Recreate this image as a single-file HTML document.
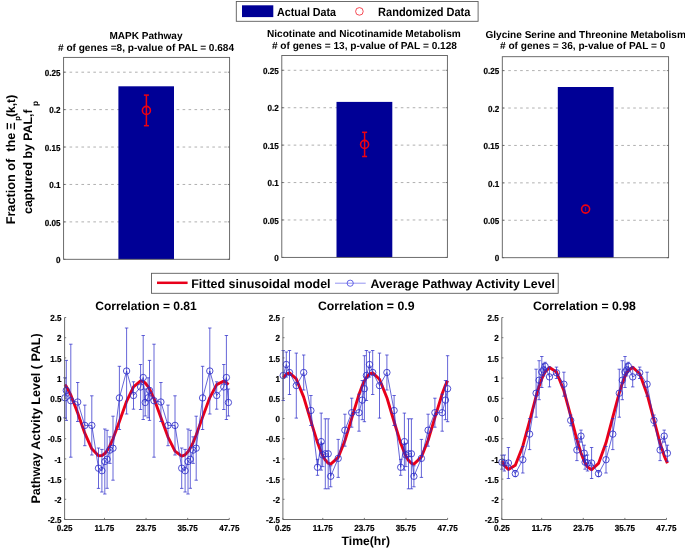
<!DOCTYPE html>
<html><head><meta charset="utf-8"><style>
html,body{margin:0;padding:0;background:#fff;width:685px;height:552px;overflow:hidden;}
svg{display:block;will-change:transform;}
text{font-family:"Liberation Sans",sans-serif;}
</style></head><body>
<svg width="685" height="552" viewBox="0 0 685 552" text-rendering="geometricPrecision"><rect x="236.3" y="1.5" width="241.8" height="19.8" fill="#fff" stroke="#5c5c5c" stroke-width="0.9"/>
<rect x="242" y="5.3" width="31.3" height="11.8" fill="#000096"/>
<text transform="translate(277.10,15.6) scale(1,1.1)" font-size="10.730" font-family="Liberation Sans, sans-serif" font-weight="bold" xml:space="preserve">Actual Data</text>
<circle cx="359.4" cy="11.4" r="3.8" fill="none" stroke="#F00010" stroke-width="0.7"/>
<text transform="translate(378.10,15.6) scale(1,1.1)" font-size="11.012" font-family="Liberation Sans, sans-serif" font-weight="bold" xml:space="preserve">Randomized Data</text>
<line x1="63.6" y1="221.88" x2="229.6" y2="221.88" stroke="#9c9c9c" stroke-width="0.8" stroke-dasharray="2.6,3.35"/>
<line x1="63.6" y1="184.46" x2="229.6" y2="184.46" stroke="#9c9c9c" stroke-width="0.8" stroke-dasharray="2.6,3.35"/>
<line x1="63.6" y1="147.04" x2="229.6" y2="147.04" stroke="#9c9c9c" stroke-width="0.8" stroke-dasharray="2.6,3.35"/>
<line x1="63.6" y1="109.62" x2="229.6" y2="109.62" stroke="#9c9c9c" stroke-width="0.8" stroke-dasharray="2.6,3.35"/>
<line x1="63.6" y1="72.20" x2="229.6" y2="72.20" stroke="#9c9c9c" stroke-width="0.8" stroke-dasharray="2.6,3.35"/>
<rect x="118.4" y="86.3" width="55.60" height="173.00" fill="#000096"/>
<line x1="63.6" y1="259.30" x2="65.4" y2="259.30" stroke="#5c5c5c" stroke-width="0.8"/>
<line x1="229.6" y1="259.30" x2="227.79999999999998" y2="259.30" stroke="#5c5c5c" stroke-width="0.8"/>
<text transform="translate(60.60,263.00) scale(1,1.08)" font-size="8.1" stroke="#000" stroke-width="0.2" text-anchor="end" font-family="Liberation Sans, sans-serif" font-weight="bold">0</text>
<line x1="63.6" y1="221.88" x2="65.4" y2="221.88" stroke="#5c5c5c" stroke-width="0.8"/>
<line x1="229.6" y1="221.88" x2="227.79999999999998" y2="221.88" stroke="#5c5c5c" stroke-width="0.8"/>
<text transform="translate(60.60,225.58) scale(1,1.08)" font-size="8.1" stroke="#000" stroke-width="0.2" text-anchor="end" font-family="Liberation Sans, sans-serif" font-weight="bold">0.05</text>
<line x1="63.6" y1="184.46" x2="65.4" y2="184.46" stroke="#5c5c5c" stroke-width="0.8"/>
<line x1="229.6" y1="184.46" x2="227.79999999999998" y2="184.46" stroke="#5c5c5c" stroke-width="0.8"/>
<text transform="translate(60.60,188.16) scale(1,1.08)" font-size="8.1" stroke="#000" stroke-width="0.2" text-anchor="end" font-family="Liberation Sans, sans-serif" font-weight="bold">0.1</text>
<line x1="63.6" y1="147.04" x2="65.4" y2="147.04" stroke="#5c5c5c" stroke-width="0.8"/>
<line x1="229.6" y1="147.04" x2="227.79999999999998" y2="147.04" stroke="#5c5c5c" stroke-width="0.8"/>
<text transform="translate(60.60,150.74) scale(1,1.08)" font-size="8.1" stroke="#000" stroke-width="0.2" text-anchor="end" font-family="Liberation Sans, sans-serif" font-weight="bold">0.15</text>
<line x1="63.6" y1="109.62" x2="65.4" y2="109.62" stroke="#5c5c5c" stroke-width="0.8"/>
<line x1="229.6" y1="109.62" x2="227.79999999999998" y2="109.62" stroke="#5c5c5c" stroke-width="0.8"/>
<text transform="translate(60.60,113.32) scale(1,1.08)" font-size="8.1" stroke="#000" stroke-width="0.2" text-anchor="end" font-family="Liberation Sans, sans-serif" font-weight="bold">0.2</text>
<line x1="63.6" y1="72.20" x2="65.4" y2="72.20" stroke="#5c5c5c" stroke-width="0.8"/>
<line x1="229.6" y1="72.20" x2="227.79999999999998" y2="72.20" stroke="#5c5c5c" stroke-width="0.8"/>
<text transform="translate(60.60,75.90) scale(1,1.08)" font-size="8.1" stroke="#000" stroke-width="0.2" text-anchor="end" font-family="Liberation Sans, sans-serif" font-weight="bold">0.25</text>
<rect x="63.6" y="57.4" width="166.00" height="201.90" fill="none" stroke="#5c5c5c" stroke-width="0.9"/>
<g stroke="#F00010" stroke-width="1.5" fill="none"><line x1="146.4" y1="95.10" x2="146.4" y2="125.70"/><line x1="143.9" y1="95.10" x2="148.9" y2="95.10"/><line x1="143.9" y1="125.70" x2="148.9" y2="125.70"/></g>
<circle cx="146.4" cy="110.4" r="4.0" stroke="#F00010" stroke-width="1.6" fill="none"/>
<line x1="281.8" y1="219.98" x2="447.4" y2="219.98" stroke="#9c9c9c" stroke-width="0.8" stroke-dasharray="2.6,3.35"/>
<line x1="281.8" y1="182.56" x2="447.4" y2="182.56" stroke="#9c9c9c" stroke-width="0.8" stroke-dasharray="2.6,3.35"/>
<line x1="281.8" y1="145.14" x2="447.4" y2="145.14" stroke="#9c9c9c" stroke-width="0.8" stroke-dasharray="2.6,3.35"/>
<line x1="281.8" y1="107.72" x2="447.4" y2="107.72" stroke="#9c9c9c" stroke-width="0.8" stroke-dasharray="2.6,3.35"/>
<line x1="281.8" y1="70.30" x2="447.4" y2="70.30" stroke="#9c9c9c" stroke-width="0.8" stroke-dasharray="2.6,3.35"/>
<rect x="336.5" y="101.9" width="55.80" height="155.50" fill="#000096"/>
<line x1="281.8" y1="257.40" x2="283.6" y2="257.40" stroke="#5c5c5c" stroke-width="0.8"/>
<line x1="447.4" y1="257.40" x2="445.59999999999997" y2="257.40" stroke="#5c5c5c" stroke-width="0.8"/>
<text transform="translate(278.80,261.10) scale(1,1.08)" font-size="8.1" stroke="#000" stroke-width="0.2" text-anchor="end" font-family="Liberation Sans, sans-serif" font-weight="bold">0</text>
<line x1="281.8" y1="219.98" x2="283.6" y2="219.98" stroke="#5c5c5c" stroke-width="0.8"/>
<line x1="447.4" y1="219.98" x2="445.59999999999997" y2="219.98" stroke="#5c5c5c" stroke-width="0.8"/>
<text transform="translate(278.80,223.68) scale(1,1.08)" font-size="8.1" stroke="#000" stroke-width="0.2" text-anchor="end" font-family="Liberation Sans, sans-serif" font-weight="bold">0.05</text>
<line x1="281.8" y1="182.56" x2="283.6" y2="182.56" stroke="#5c5c5c" stroke-width="0.8"/>
<line x1="447.4" y1="182.56" x2="445.59999999999997" y2="182.56" stroke="#5c5c5c" stroke-width="0.8"/>
<text transform="translate(278.80,186.26) scale(1,1.08)" font-size="8.1" stroke="#000" stroke-width="0.2" text-anchor="end" font-family="Liberation Sans, sans-serif" font-weight="bold">0.1</text>
<line x1="281.8" y1="145.14" x2="283.6" y2="145.14" stroke="#5c5c5c" stroke-width="0.8"/>
<line x1="447.4" y1="145.14" x2="445.59999999999997" y2="145.14" stroke="#5c5c5c" stroke-width="0.8"/>
<text transform="translate(278.80,148.84) scale(1,1.08)" font-size="8.1" stroke="#000" stroke-width="0.2" text-anchor="end" font-family="Liberation Sans, sans-serif" font-weight="bold">0.15</text>
<line x1="281.8" y1="107.72" x2="283.6" y2="107.72" stroke="#5c5c5c" stroke-width="0.8"/>
<line x1="447.4" y1="107.72" x2="445.59999999999997" y2="107.72" stroke="#5c5c5c" stroke-width="0.8"/>
<text transform="translate(278.80,111.42) scale(1,1.08)" font-size="8.1" stroke="#000" stroke-width="0.2" text-anchor="end" font-family="Liberation Sans, sans-serif" font-weight="bold">0.2</text>
<line x1="281.8" y1="70.30" x2="283.6" y2="70.30" stroke="#5c5c5c" stroke-width="0.8"/>
<line x1="447.4" y1="70.30" x2="445.59999999999997" y2="70.30" stroke="#5c5c5c" stroke-width="0.8"/>
<text transform="translate(278.80,74.00) scale(1,1.08)" font-size="8.1" stroke="#000" stroke-width="0.2" text-anchor="end" font-family="Liberation Sans, sans-serif" font-weight="bold">0.25</text>
<rect x="281.8" y="55.5" width="165.60" height="201.90" fill="none" stroke="#5c5c5c" stroke-width="0.9"/>
<g stroke="#F00010" stroke-width="1.5" fill="none"><line x1="364.6" y1="132.30" x2="364.6" y2="156.50"/><line x1="362.1" y1="132.30" x2="367.1" y2="132.30"/><line x1="362.1" y1="156.50" x2="367.1" y2="156.50"/></g>
<circle cx="364.6" cy="144.4" r="4.0" stroke="#F00010" stroke-width="1.6" fill="none"/>
<line x1="502.3" y1="220.28" x2="668.6" y2="220.28" stroke="#9c9c9c" stroke-width="0.8" stroke-dasharray="2.6,3.35"/>
<line x1="502.3" y1="182.86" x2="668.6" y2="182.86" stroke="#9c9c9c" stroke-width="0.8" stroke-dasharray="2.6,3.35"/>
<line x1="502.3" y1="145.44" x2="668.6" y2="145.44" stroke="#9c9c9c" stroke-width="0.8" stroke-dasharray="2.6,3.35"/>
<line x1="502.3" y1="108.02" x2="668.6" y2="108.02" stroke="#9c9c9c" stroke-width="0.8" stroke-dasharray="2.6,3.35"/>
<line x1="502.3" y1="70.60" x2="668.6" y2="70.60" stroke="#9c9c9c" stroke-width="0.8" stroke-dasharray="2.6,3.35"/>
<rect x="557.8" y="87.0" width="55.80" height="170.70" fill="#000096"/>
<line x1="502.3" y1="257.70" x2="504.1" y2="257.70" stroke="#5c5c5c" stroke-width="0.8"/>
<line x1="668.6" y1="257.70" x2="666.8000000000001" y2="257.70" stroke="#5c5c5c" stroke-width="0.8"/>
<text transform="translate(499.30,261.40) scale(1,1.08)" font-size="8.1" stroke="#000" stroke-width="0.2" text-anchor="end" font-family="Liberation Sans, sans-serif" font-weight="bold">0</text>
<line x1="502.3" y1="220.28" x2="504.1" y2="220.28" stroke="#5c5c5c" stroke-width="0.8"/>
<line x1="668.6" y1="220.28" x2="666.8000000000001" y2="220.28" stroke="#5c5c5c" stroke-width="0.8"/>
<text transform="translate(499.30,223.98) scale(1,1.08)" font-size="8.1" stroke="#000" stroke-width="0.2" text-anchor="end" font-family="Liberation Sans, sans-serif" font-weight="bold">0.05</text>
<line x1="502.3" y1="182.86" x2="504.1" y2="182.86" stroke="#5c5c5c" stroke-width="0.8"/>
<line x1="668.6" y1="182.86" x2="666.8000000000001" y2="182.86" stroke="#5c5c5c" stroke-width="0.8"/>
<text transform="translate(499.30,186.56) scale(1,1.08)" font-size="8.1" stroke="#000" stroke-width="0.2" text-anchor="end" font-family="Liberation Sans, sans-serif" font-weight="bold">0.1</text>
<line x1="502.3" y1="145.44" x2="504.1" y2="145.44" stroke="#5c5c5c" stroke-width="0.8"/>
<line x1="668.6" y1="145.44" x2="666.8000000000001" y2="145.44" stroke="#5c5c5c" stroke-width="0.8"/>
<text transform="translate(499.30,149.14) scale(1,1.08)" font-size="8.1" stroke="#000" stroke-width="0.2" text-anchor="end" font-family="Liberation Sans, sans-serif" font-weight="bold">0.15</text>
<line x1="502.3" y1="108.02" x2="504.1" y2="108.02" stroke="#5c5c5c" stroke-width="0.8"/>
<line x1="668.6" y1="108.02" x2="666.8000000000001" y2="108.02" stroke="#5c5c5c" stroke-width="0.8"/>
<text transform="translate(499.30,111.72) scale(1,1.08)" font-size="8.1" stroke="#000" stroke-width="0.2" text-anchor="end" font-family="Liberation Sans, sans-serif" font-weight="bold">0.2</text>
<line x1="502.3" y1="70.60" x2="504.1" y2="70.60" stroke="#5c5c5c" stroke-width="0.8"/>
<line x1="668.6" y1="70.60" x2="666.8000000000001" y2="70.60" stroke="#5c5c5c" stroke-width="0.8"/>
<text transform="translate(499.30,74.30) scale(1,1.08)" font-size="8.1" stroke="#000" stroke-width="0.2" text-anchor="end" font-family="Liberation Sans, sans-serif" font-weight="bold">0.25</text>
<rect x="502.3" y="56.7" width="166.30" height="201.00" fill="none" stroke="#5c5c5c" stroke-width="0.9"/>
<line x1="585.6" y1="207.10" x2="585.6" y2="211.10" stroke="#c00030" stroke-width="0.8"/>
<circle cx="585.6" cy="209.1" r="4.0" stroke="#F00010" stroke-width="1.6" fill="none"/>
<text x="109.50" y="39.0" font-size="10.042" font-family="Liberation Sans, sans-serif" font-weight="bold" xml:space="preserve">MAPK Pathway</text>
<text x="58.00" y="50.7" font-size="10.086" font-family="Liberation Sans, sans-serif" font-weight="bold" xml:space="preserve"># of genes =8, p-value of PAL = 0.684</text>
<text x="266.99" y="37.0" font-size="10.089" font-family="Liberation Sans, sans-serif" font-weight="bold" xml:space="preserve">Nicotinate and Nicotinamide Metabolism</text>
<text x="271.90" y="48.5" font-size="10.115" font-family="Liberation Sans, sans-serif" font-weight="bold" xml:space="preserve"># of genes = 13, p-value of PAL = 0.128</text>
<text x="485.45" y="37.7" font-size="10.088" font-family="Liberation Sans, sans-serif" font-weight="bold" xml:space="preserve">Glycine Serine and Threonine Metabolism</text>
<text x="500.00" y="49.4" font-size="10.129" font-family="Liberation Sans, sans-serif" font-weight="bold" xml:space="preserve"># of genes = 36, p-value of PAL = 0</text>
<text transform="translate(15.0,224.36) rotate(-90)" font-size="12.692" font-family="Liberation Sans, sans-serif" font-weight="bold" xml:space="preserve">Fraction of  the</text>
<text transform="translate(15.0,130.10) rotate(-90)" font-size="12.100" font-family="Liberation Sans, sans-serif" font-weight="bold" xml:space="preserve">&#926;</text>
<text transform="translate(20.2,120.80) rotate(-90)" font-size="7.800" font-family="Liberation Sans, sans-serif" font-weight="bold" xml:space="preserve">p</text>
<text transform="translate(15.0,117.00) rotate(-90)" font-size="12.100" font-family="Liberation Sans, sans-serif" font-weight="bold" xml:space="preserve">(k,t)</text>
<text transform="translate(31.5,213.90) rotate(-90)" font-size="12.309" font-family="Liberation Sans, sans-serif" font-weight="bold" xml:space="preserve">captured by PAL,</text>
<text transform="translate(31.5,113.40) rotate(-90)" font-size="12.100" font-family="Liberation Sans, sans-serif" font-weight="bold" xml:space="preserve">f</text>
<text transform="translate(37.6,105.90) rotate(-90)" font-size="8.400" font-family="Liberation Sans, sans-serif" font-weight="bold" xml:space="preserve">p</text>
<rect x="151.5" y="273.3" width="406.7" height="20" fill="#fff" stroke="#5c5c5c" stroke-width="0.9"/>
<line x1="157" y1="282.8" x2="187.6" y2="282.8" stroke="#E8001A" stroke-width="2.5"/>
<text x="191.16" y="287.5" font-size="12.491" font-family="Liberation Sans, sans-serif" font-weight="bold" xml:space="preserve">Fitted sinusoidal model</text>
<line x1="335" y1="283.2" x2="365.7" y2="283.2" stroke="#7878ee" stroke-width="0.8"/>
<circle cx="350.2" cy="283.2" r="3.1" fill="none" stroke="#4040e0" stroke-width="0.8"/>
<text x="370.50" y="287.5" font-size="12.357" font-family="Liberation Sans, sans-serif" font-weight="bold" xml:space="preserve">Average Pathway Activity Level</text>
<polyline points="64.90,384.54 66.30,386.47 70.80,395.03 77.70,413.10 84.80,433.19 91.80,448.85 98.50,455.82 101.90,455.67 104.80,453.54 107.10,450.61 109.90,445.70 113.00,438.81 119.40,421.46 126.60,401.32 133.50,386.77 140.60,380.93 143.20,381.54 145.20,383.01 148.10,386.62 149.50,388.94 154.00,398.56 160.90,417.42 168.00,437.08 175.00,451.19 181.70,456.07 185.10,454.79 188.00,451.75 190.30,448.15 193.10,442.53 196.20,435.03 202.60,417.13 209.80,397.59 216.70,384.67 223.80,381.10 226.40,382.56 228.40,384.67" stroke="#E8001A" stroke-width="2.9" fill="none" stroke-linejoin="round"/>
<path d="M64.90 377.80V417.80M63.20 377.80H66.60M63.20 417.80H66.60M66.30 360.40V420.40M64.60 360.40H68.00M64.60 420.40H68.00M70.80 344.20V457.20M69.10 344.20H72.50M69.10 457.20H72.50M77.70 382.50V421.50M76.00 382.50H79.40M76.00 421.50H79.40M84.80 405.10V445.70M83.10 405.10H86.50M83.10 445.70H86.50M91.80 395.80V455.00M90.10 395.80H93.50M90.10 455.00H93.50M98.50 448.00V488.40M96.80 448.00H100.20M96.80 488.40H100.20M101.90 449.40V492.00M100.20 449.40H103.60M100.20 492.00H103.60M104.80 429.00V494.00M103.10 429.00H106.50M103.10 494.00H106.50M107.10 430.30V488.30M105.40 430.30H108.80M105.40 488.30H108.80M109.90 436.80V463.40M108.20 436.80H111.60M108.20 463.40H111.60M113.00 416.20V480.20M111.30 416.20H114.70M111.30 480.20H114.70M119.40 366.30V429.50M117.70 366.30H121.10M117.70 429.50H121.10M126.60 328.00V414.00M124.90 328.00H128.30M124.90 414.00H128.30M133.50 381.80V409.20M131.80 381.80H135.20M131.80 409.20H135.20M140.60 364.50V409.50M138.90 364.50H142.30M138.90 409.50H142.30M143.20 335.50V419.50M141.50 335.50H144.90M141.50 419.50H144.90M145.20 389.00V416.00M143.50 389.00H146.90M143.50 416.00H146.90M148.10 377.80V417.80M146.40 377.80H149.80M146.40 417.80H149.80M149.50 360.40V420.40M147.80 360.40H151.20M147.80 420.40H151.20M154.00 344.20V457.20M152.30 344.20H155.70M152.30 457.20H155.70M160.90 382.50V421.50M159.20 382.50H162.60M159.20 421.50H162.60M168.00 405.10V445.70M166.30 405.10H169.70M166.30 445.70H169.70M175.00 395.80V455.00M173.30 395.80H176.70M173.30 455.00H176.70M181.70 448.00V488.40M180.00 448.00H183.40M180.00 488.40H183.40M185.10 449.40V492.00M183.40 449.40H186.80M183.40 492.00H186.80M188.00 429.00V494.00M186.30 429.00H189.70M186.30 494.00H189.70M190.30 430.30V488.30M188.60 430.30H192.00M188.60 488.30H192.00M193.10 436.80V463.40M191.40 436.80H194.80M191.40 463.40H194.80M196.20 416.20V480.20M194.50 416.20H197.90M194.50 480.20H197.90M202.60 366.30V429.50M200.90 366.30H204.30M200.90 429.50H204.30M209.80 328.00V414.00M208.10 328.00H211.50M208.10 414.00H211.50M216.70 381.80V409.20M215.00 381.80H218.40M215.00 409.20H218.40M223.80 364.50V409.50M222.10 364.50H225.50M222.10 409.50H225.50M226.40 335.50V419.50M224.70 335.50H228.10M224.70 419.50H228.10M228.40 389.00V416.00M226.70 389.00H230.10M226.70 416.00H230.10" stroke="#2a2ac8" stroke-width="0.72" fill="none"/>
<polyline points="64.90,397.80 66.30,390.40 70.80,400.70 77.70,402.00 84.80,425.40 91.80,425.40 98.50,468.20 101.90,470.70 104.80,461.50 107.10,459.30 109.90,450.10 113.00,448.20 119.40,397.90 126.60,371.00 133.50,395.50 140.60,387.00 143.20,377.50 145.20,402.50 148.10,397.80 149.50,390.40 154.00,400.70 160.90,402.00 168.00,425.40 175.00,425.40 181.70,468.20 185.10,470.70 188.00,461.50 190.30,459.30 193.10,450.10 196.20,448.20 202.60,397.90 209.80,371.00 216.70,395.50 223.80,387.00 226.40,377.50 228.40,402.50" stroke="#2a2ac8" stroke-width="0.72" fill="none"/>
<g stroke="#2a2ac8" stroke-width="0.82" fill="none"><circle cx="64.90" cy="397.80" r="3.2"/><circle cx="66.30" cy="390.40" r="3.2"/><circle cx="70.80" cy="400.70" r="3.2"/><circle cx="77.70" cy="402.00" r="3.2"/><circle cx="84.80" cy="425.40" r="3.2"/><circle cx="91.80" cy="425.40" r="3.2"/><circle cx="98.50" cy="468.20" r="3.2"/><circle cx="101.90" cy="470.70" r="3.2"/><circle cx="104.80" cy="461.50" r="3.2"/><circle cx="107.10" cy="459.30" r="3.2"/><circle cx="109.90" cy="450.10" r="3.2"/><circle cx="113.00" cy="448.20" r="3.2"/><circle cx="119.40" cy="397.90" r="3.2"/><circle cx="126.60" cy="371.00" r="3.2"/><circle cx="133.50" cy="395.50" r="3.2"/><circle cx="140.60" cy="387.00" r="3.2"/><circle cx="143.20" cy="377.50" r="3.2"/><circle cx="145.20" cy="402.50" r="3.2"/><circle cx="148.10" cy="397.80" r="3.2"/><circle cx="149.50" cy="390.40" r="3.2"/><circle cx="154.00" cy="400.70" r="3.2"/><circle cx="160.90" cy="402.00" r="3.2"/><circle cx="168.00" cy="425.40" r="3.2"/><circle cx="175.00" cy="425.40" r="3.2"/><circle cx="181.70" cy="468.20" r="3.2"/><circle cx="185.10" cy="470.70" r="3.2"/><circle cx="188.00" cy="461.50" r="3.2"/><circle cx="190.30" cy="459.30" r="3.2"/><circle cx="193.10" cy="450.10" r="3.2"/><circle cx="196.20" cy="448.20" r="3.2"/><circle cx="202.60" cy="397.90" r="3.2"/><circle cx="209.80" cy="371.00" r="3.2"/><circle cx="216.70" cy="395.50" r="3.2"/><circle cx="223.80" cy="387.00" r="3.2"/><circle cx="226.40" cy="377.50" r="3.2"/><circle cx="228.40" cy="402.50" r="3.2"/></g>
<path d="M64.6 317.50V519.50H229.28" stroke="#5c5c5c" stroke-width="0.9" fill="none"/>
<line x1="64.6" y1="317.50" x2="66.19999999999999" y2="317.50" stroke="#5c5c5c" stroke-width="0.8"/>
<text transform="translate(61.60,321.20) scale(1,1.08)" font-size="8.1" stroke="#000" stroke-width="0.2" text-anchor="end" font-family="Liberation Sans, sans-serif" font-weight="bold">2.5</text>
<line x1="64.6" y1="337.70" x2="66.19999999999999" y2="337.70" stroke="#5c5c5c" stroke-width="0.8"/>
<text transform="translate(61.60,341.40) scale(1,1.08)" font-size="8.1" stroke="#000" stroke-width="0.2" text-anchor="end" font-family="Liberation Sans, sans-serif" font-weight="bold">2</text>
<line x1="64.6" y1="357.90" x2="66.19999999999999" y2="357.90" stroke="#5c5c5c" stroke-width="0.8"/>
<text transform="translate(61.60,361.60) scale(1,1.08)" font-size="8.1" stroke="#000" stroke-width="0.2" text-anchor="end" font-family="Liberation Sans, sans-serif" font-weight="bold">1.5</text>
<line x1="64.6" y1="378.10" x2="66.19999999999999" y2="378.10" stroke="#5c5c5c" stroke-width="0.8"/>
<text transform="translate(61.60,381.80) scale(1,1.08)" font-size="8.1" stroke="#000" stroke-width="0.2" text-anchor="end" font-family="Liberation Sans, sans-serif" font-weight="bold">1</text>
<line x1="64.6" y1="398.30" x2="66.19999999999999" y2="398.30" stroke="#5c5c5c" stroke-width="0.8"/>
<text transform="translate(61.60,402.00) scale(1,1.08)" font-size="8.1" stroke="#000" stroke-width="0.2" text-anchor="end" font-family="Liberation Sans, sans-serif" font-weight="bold">0.5</text>
<line x1="64.6" y1="418.50" x2="66.19999999999999" y2="418.50" stroke="#5c5c5c" stroke-width="0.8"/>
<text transform="translate(61.60,422.20) scale(1,1.08)" font-size="8.1" stroke="#000" stroke-width="0.2" text-anchor="end" font-family="Liberation Sans, sans-serif" font-weight="bold">0</text>
<line x1="64.6" y1="438.70" x2="66.19999999999999" y2="438.70" stroke="#5c5c5c" stroke-width="0.8"/>
<text transform="translate(61.60,442.40) scale(1,1.08)" font-size="8.1" stroke="#000" stroke-width="0.2" text-anchor="end" font-family="Liberation Sans, sans-serif" font-weight="bold">-0.5</text>
<line x1="64.6" y1="458.90" x2="66.19999999999999" y2="458.90" stroke="#5c5c5c" stroke-width="0.8"/>
<text transform="translate(61.60,462.60) scale(1,1.08)" font-size="8.1" stroke="#000" stroke-width="0.2" text-anchor="end" font-family="Liberation Sans, sans-serif" font-weight="bold">-1</text>
<line x1="64.6" y1="479.10" x2="66.19999999999999" y2="479.10" stroke="#5c5c5c" stroke-width="0.8"/>
<text transform="translate(61.60,482.80) scale(1,1.08)" font-size="8.1" stroke="#000" stroke-width="0.2" text-anchor="end" font-family="Liberation Sans, sans-serif" font-weight="bold">-1.5</text>
<line x1="64.6" y1="499.30" x2="66.19999999999999" y2="499.30" stroke="#5c5c5c" stroke-width="0.8"/>
<text transform="translate(61.60,503.00) scale(1,1.08)" font-size="8.1" stroke="#000" stroke-width="0.2" text-anchor="end" font-family="Liberation Sans, sans-serif" font-weight="bold">-2</text>
<line x1="64.6" y1="519.50" x2="66.19999999999999" y2="519.50" stroke="#5c5c5c" stroke-width="0.8"/>
<text transform="translate(61.60,523.20) scale(1,1.08)" font-size="8.1" stroke="#000" stroke-width="0.2" text-anchor="end" font-family="Liberation Sans, sans-serif" font-weight="bold">-2.5</text>
<line x1="64.60" y1="519.50" x2="64.60" y2="517.90" stroke="#5c5c5c" stroke-width="0.8"/>
<text transform="translate(64.60,530.7) scale(1,1.08)" font-size="8.1" stroke="#000" stroke-width="0.2" text-anchor="middle" font-family="Liberation Sans, sans-serif" font-weight="bold">0.25</text>
<line x1="104.47" y1="519.50" x2="104.47" y2="517.90" stroke="#5c5c5c" stroke-width="0.8"/>
<text transform="translate(104.47,530.7) scale(1,1.08)" font-size="8.1" stroke="#000" stroke-width="0.2" text-anchor="middle" font-family="Liberation Sans, sans-serif" font-weight="bold">11.75</text>
<line x1="146.07" y1="519.50" x2="146.07" y2="517.90" stroke="#5c5c5c" stroke-width="0.8"/>
<text transform="translate(146.07,530.7) scale(1,1.08)" font-size="8.1" stroke="#000" stroke-width="0.2" text-anchor="middle" font-family="Liberation Sans, sans-serif" font-weight="bold">23.75</text>
<line x1="187.68" y1="519.50" x2="187.68" y2="517.90" stroke="#5c5c5c" stroke-width="0.8"/>
<text transform="translate(187.68,530.7) scale(1,1.08)" font-size="8.1" stroke="#000" stroke-width="0.2" text-anchor="middle" font-family="Liberation Sans, sans-serif" font-weight="bold">35.75</text>
<line x1="229.28" y1="519.50" x2="229.28" y2="517.90" stroke="#5c5c5c" stroke-width="0.8"/>
<text transform="translate(229.28,530.7) scale(1,1.08)" font-size="8.1" stroke="#000" stroke-width="0.2" text-anchor="middle" font-family="Liberation Sans, sans-serif" font-weight="bold">47.75</text>
<polyline points="283.20,377.78 286.30,374.10 289.50,372.85 296.30,378.94 303.70,397.08 310.90,421.09 317.50,442.61 321.20,452.39 322.70,455.64 325.30,460.11 328.20,463.20 330.70,464.15 338.20,457.36 344.90,440.83 351.70,418.33 359.00,394.39 362.30,385.55 364.40,380.97 366.40,377.48 369.50,373.94 372.70,372.86 379.50,379.28 386.90,397.70 394.10,421.78 400.70,443.19 404.40,452.85 405.90,456.03 408.50,460.39 411.40,463.34 413.90,464.15 421.40,456.99 428.10,440.22 434.90,417.64 442.20,393.81 445.50,385.08 447.60,380.58" stroke="#E8001A" stroke-width="2.9" fill="none" stroke-linejoin="round"/>
<path d="M283.20 350.50V400.50M281.50 350.50H284.90M281.50 400.50H284.90M286.30 352.00V377.00M284.60 352.00H288.00M284.60 377.00H288.00M289.50 350.50V394.50M287.80 350.50H291.20M287.80 394.50H291.20M296.30 353.10V418.10M294.60 353.10H298.00M294.60 418.10H298.00M303.70 355.00V390.00M302.00 355.00H305.40M302.00 390.00H305.40M310.90 395.50V425.50M309.20 395.50H312.60M309.20 425.50H312.60M317.50 459.30V475.30M315.80 459.30H319.20M315.80 475.30H319.20M321.20 413.10V470.10M319.50 413.10H322.90M319.50 470.10H322.90M322.70 443.40V466.60M321.00 443.40H324.40M321.00 466.60H324.40M325.30 418.80V488.80M323.60 418.80H327.00M323.60 488.80H327.00M328.20 418.80V488.80M326.50 418.80H329.90M326.50 488.80H329.90M330.70 465.80V486.80M329.00 465.80H332.40M329.00 486.80H332.40M338.20 439.40V477.40M336.50 439.40H339.90M336.50 477.40H339.90M344.90 414.20V446.20M343.20 414.20H346.60M343.20 446.20H346.60M351.70 398.20V427.20M350.00 398.20H353.40M350.00 427.20H353.40M359.00 394.20V431.20M357.30 394.20H360.70M357.30 431.20H360.70M362.30 380.50V419.70M360.60 380.50H364.00M360.60 419.70H364.00M364.40 355.70V421.70M362.70 355.70H366.10M362.70 421.70H366.10M366.40 350.50V400.50M364.70 350.50H368.10M364.70 400.50H368.10M369.50 352.00V377.00M367.80 352.00H371.20M367.80 377.00H371.20M372.70 350.50V394.50M371.00 350.50H374.40M371.00 394.50H374.40M379.50 353.10V418.10M377.80 353.10H381.20M377.80 418.10H381.20M386.90 355.00V390.00M385.20 355.00H388.60M385.20 390.00H388.60M394.10 395.50V425.50M392.40 395.50H395.80M392.40 425.50H395.80M400.70 459.30V475.30M399.00 459.30H402.40M399.00 475.30H402.40M404.40 413.10V470.10M402.70 413.10H406.10M402.70 470.10H406.10M405.90 443.40V466.60M404.20 443.40H407.60M404.20 466.60H407.60M408.50 418.80V488.80M406.80 418.80H410.20M406.80 488.80H410.20M411.40 418.80V488.80M409.70 418.80H413.10M409.70 488.80H413.10M413.90 465.80V486.80M412.20 465.80H415.60M412.20 486.80H415.60M421.40 439.40V477.40M419.70 439.40H423.10M419.70 477.40H423.10M428.10 414.20V446.20M426.40 414.20H429.80M426.40 446.20H429.80M434.90 398.20V427.20M433.20 398.20H436.60M433.20 427.20H436.60M442.20 394.20V431.20M440.50 394.20H443.90M440.50 431.20H443.90M445.50 380.50V419.70M443.80 380.50H447.20M443.80 419.70H447.20M447.60 355.70V421.70M445.90 355.70H449.30M445.90 421.70H449.30" stroke="#2a2ac8" stroke-width="0.72" fill="none"/>
<polyline points="283.20,375.50 286.30,364.50 289.50,372.50 296.30,385.60 303.70,372.50 310.90,410.50 317.50,467.30 321.20,441.60 322.70,455.00 325.30,453.80 328.20,453.80 330.70,476.30 338.20,458.40 344.90,430.20 351.70,412.70 359.00,412.70 362.30,400.10 364.40,388.70 366.40,375.50 369.50,364.50 372.70,372.50 379.50,385.60 386.90,372.50 394.10,410.50 400.70,467.30 404.40,441.60 405.90,455.00 408.50,453.80 411.40,453.80 413.90,476.30 421.40,458.40 428.10,430.20 434.90,412.70 442.20,412.70 445.50,400.10 447.60,388.70" stroke="#2a2ac8" stroke-width="0.72" fill="none"/>
<g stroke="#2a2ac8" stroke-width="0.82" fill="none"><circle cx="283.20" cy="375.50" r="3.2"/><circle cx="286.30" cy="364.50" r="3.2"/><circle cx="289.50" cy="372.50" r="3.2"/><circle cx="296.30" cy="385.60" r="3.2"/><circle cx="303.70" cy="372.50" r="3.2"/><circle cx="310.90" cy="410.50" r="3.2"/><circle cx="317.50" cy="467.30" r="3.2"/><circle cx="321.20" cy="441.60" r="3.2"/><circle cx="322.70" cy="455.00" r="3.2"/><circle cx="325.30" cy="453.80" r="3.2"/><circle cx="328.20" cy="453.80" r="3.2"/><circle cx="330.70" cy="476.30" r="3.2"/><circle cx="338.20" cy="458.40" r="3.2"/><circle cx="344.90" cy="430.20" r="3.2"/><circle cx="351.70" cy="412.70" r="3.2"/><circle cx="359.00" cy="412.70" r="3.2"/><circle cx="362.30" cy="400.10" r="3.2"/><circle cx="364.40" cy="388.70" r="3.2"/><circle cx="366.40" cy="375.50" r="3.2"/><circle cx="369.50" cy="364.50" r="3.2"/><circle cx="372.70" cy="372.50" r="3.2"/><circle cx="379.50" cy="385.60" r="3.2"/><circle cx="386.90" cy="372.50" r="3.2"/><circle cx="394.10" cy="410.50" r="3.2"/><circle cx="400.70" cy="467.30" r="3.2"/><circle cx="404.40" cy="441.60" r="3.2"/><circle cx="405.90" cy="455.00" r="3.2"/><circle cx="408.50" cy="453.80" r="3.2"/><circle cx="411.40" cy="453.80" r="3.2"/><circle cx="413.90" cy="476.30" r="3.2"/><circle cx="421.40" cy="458.40" r="3.2"/><circle cx="428.10" cy="430.20" r="3.2"/><circle cx="434.90" cy="412.70" r="3.2"/><circle cx="442.20" cy="412.70" r="3.2"/><circle cx="445.50" cy="400.10" r="3.2"/><circle cx="447.60" cy="388.70" r="3.2"/></g>
<path d="M282.9 317.50V519.50H447.58" stroke="#5c5c5c" stroke-width="0.9" fill="none"/>
<line x1="282.9" y1="317.50" x2="284.5" y2="317.50" stroke="#5c5c5c" stroke-width="0.8"/>
<text transform="translate(279.90,321.20) scale(1,1.08)" font-size="8.1" stroke="#000" stroke-width="0.2" text-anchor="end" font-family="Liberation Sans, sans-serif" font-weight="bold">2.5</text>
<line x1="282.9" y1="337.70" x2="284.5" y2="337.70" stroke="#5c5c5c" stroke-width="0.8"/>
<text transform="translate(279.90,341.40) scale(1,1.08)" font-size="8.1" stroke="#000" stroke-width="0.2" text-anchor="end" font-family="Liberation Sans, sans-serif" font-weight="bold">2</text>
<line x1="282.9" y1="357.90" x2="284.5" y2="357.90" stroke="#5c5c5c" stroke-width="0.8"/>
<text transform="translate(279.90,361.60) scale(1,1.08)" font-size="8.1" stroke="#000" stroke-width="0.2" text-anchor="end" font-family="Liberation Sans, sans-serif" font-weight="bold">1.5</text>
<line x1="282.9" y1="378.10" x2="284.5" y2="378.10" stroke="#5c5c5c" stroke-width="0.8"/>
<text transform="translate(279.90,381.80) scale(1,1.08)" font-size="8.1" stroke="#000" stroke-width="0.2" text-anchor="end" font-family="Liberation Sans, sans-serif" font-weight="bold">1</text>
<line x1="282.9" y1="398.30" x2="284.5" y2="398.30" stroke="#5c5c5c" stroke-width="0.8"/>
<text transform="translate(279.90,402.00) scale(1,1.08)" font-size="8.1" stroke="#000" stroke-width="0.2" text-anchor="end" font-family="Liberation Sans, sans-serif" font-weight="bold">0.5</text>
<line x1="282.9" y1="418.50" x2="284.5" y2="418.50" stroke="#5c5c5c" stroke-width="0.8"/>
<text transform="translate(279.90,422.20) scale(1,1.08)" font-size="8.1" stroke="#000" stroke-width="0.2" text-anchor="end" font-family="Liberation Sans, sans-serif" font-weight="bold">0</text>
<line x1="282.9" y1="438.70" x2="284.5" y2="438.70" stroke="#5c5c5c" stroke-width="0.8"/>
<text transform="translate(279.90,442.40) scale(1,1.08)" font-size="8.1" stroke="#000" stroke-width="0.2" text-anchor="end" font-family="Liberation Sans, sans-serif" font-weight="bold">-0.5</text>
<line x1="282.9" y1="458.90" x2="284.5" y2="458.90" stroke="#5c5c5c" stroke-width="0.8"/>
<text transform="translate(279.90,462.60) scale(1,1.08)" font-size="8.1" stroke="#000" stroke-width="0.2" text-anchor="end" font-family="Liberation Sans, sans-serif" font-weight="bold">-1</text>
<line x1="282.9" y1="479.10" x2="284.5" y2="479.10" stroke="#5c5c5c" stroke-width="0.8"/>
<text transform="translate(279.90,482.80) scale(1,1.08)" font-size="8.1" stroke="#000" stroke-width="0.2" text-anchor="end" font-family="Liberation Sans, sans-serif" font-weight="bold">-1.5</text>
<line x1="282.9" y1="499.30" x2="284.5" y2="499.30" stroke="#5c5c5c" stroke-width="0.8"/>
<text transform="translate(279.90,503.00) scale(1,1.08)" font-size="8.1" stroke="#000" stroke-width="0.2" text-anchor="end" font-family="Liberation Sans, sans-serif" font-weight="bold">-2</text>
<line x1="282.9" y1="519.50" x2="284.5" y2="519.50" stroke="#5c5c5c" stroke-width="0.8"/>
<text transform="translate(279.90,523.20) scale(1,1.08)" font-size="8.1" stroke="#000" stroke-width="0.2" text-anchor="end" font-family="Liberation Sans, sans-serif" font-weight="bold">-2.5</text>
<line x1="282.90" y1="519.50" x2="282.90" y2="517.90" stroke="#5c5c5c" stroke-width="0.8"/>
<text transform="translate(282.90,530.7) scale(1,1.08)" font-size="8.1" stroke="#000" stroke-width="0.2" text-anchor="middle" font-family="Liberation Sans, sans-serif" font-weight="bold">0.25</text>
<line x1="322.77" y1="519.50" x2="322.77" y2="517.90" stroke="#5c5c5c" stroke-width="0.8"/>
<text transform="translate(322.77,530.7) scale(1,1.08)" font-size="8.1" stroke="#000" stroke-width="0.2" text-anchor="middle" font-family="Liberation Sans, sans-serif" font-weight="bold">11.75</text>
<line x1="364.37" y1="519.50" x2="364.37" y2="517.90" stroke="#5c5c5c" stroke-width="0.8"/>
<text transform="translate(364.37,530.7) scale(1,1.08)" font-size="8.1" stroke="#000" stroke-width="0.2" text-anchor="middle" font-family="Liberation Sans, sans-serif" font-weight="bold">23.75</text>
<line x1="405.98" y1="519.50" x2="405.98" y2="517.90" stroke="#5c5c5c" stroke-width="0.8"/>
<text transform="translate(405.98,530.7) scale(1,1.08)" font-size="8.1" stroke="#000" stroke-width="0.2" text-anchor="middle" font-family="Liberation Sans, sans-serif" font-weight="bold">35.75</text>
<line x1="447.58" y1="519.50" x2="447.58" y2="517.90" stroke="#5c5c5c" stroke-width="0.8"/>
<text transform="translate(447.58,530.7) scale(1,1.08)" font-size="8.1" stroke="#000" stroke-width="0.2" text-anchor="middle" font-family="Liberation Sans, sans-serif" font-weight="bold">47.75</text>
<polyline points="501.90,460.96 504.30,465.50 508.40,469.55 515.30,465.18 522.80,446.16 529.60,421.05 536.10,396.31 539.10,386.38 541.80,378.86 543.50,374.97 545.10,371.99 549.50,367.45 556.50,371.99 563.90,390.84 570.70,415.95 576.90,439.62 581.00,453.01 584.20,461.17 585.10,463.03 587.50,466.93 591.60,469.79 598.50,463.42 606.00,442.78 612.80,417.13 619.30,392.85 622.30,383.42 625.00,376.49 626.70,373.03 628.30,370.47 632.70,367.21 639.70,373.77 647.10,394.22 653.90,419.87 660.10,443.13 664.20,455.81 667.40,463.23" stroke="#E8001A" stroke-width="2.9" fill="none" stroke-linejoin="round"/>
<path d="M501.90 455.20V469.20M500.20 455.20H503.60M500.20 469.20H503.60M504.30 455.00V471.00M502.60 455.00H506.00M502.60 471.00H506.00M508.40 447.50V478.50M506.70 447.50H510.10M506.70 478.50H510.10M515.30 470.60V476.60M513.60 470.60H517.00M513.60 476.60H517.00M522.80 446.40V473.00M521.10 446.40H524.50M521.10 473.00H524.50M529.60 418.60V449.60M527.90 418.60H531.30M527.90 449.60H531.30M536.10 369.20V417.20M534.40 369.20H537.80M534.40 417.20H537.80M539.10 360.70V399.70M537.40 360.70H540.80M537.40 399.70H540.80M541.80 356.50V387.50M540.10 356.50H543.50M540.10 387.50H543.50M543.50 363.90V375.90M541.80 363.90H545.20M541.80 375.90H545.20M545.10 362.30V370.30M543.40 362.30H546.80M543.40 370.30H546.80M549.50 366.90V386.90M547.80 366.90H551.20M547.80 386.90H551.20M556.50 367.10V378.50M554.80 367.10H558.20M554.80 378.50H558.20M563.90 372.20V396.20M562.20 372.20H565.60M562.20 396.20H565.60M570.70 415.00V425.80M569.00 415.00H572.40M569.00 425.80H572.40M576.90 439.40V460.60M575.20 439.40H578.60M575.20 460.60H578.60M581.00 430.10V442.10M579.30 430.10H582.70M579.30 442.10H582.70M584.20 445.20V461.20M582.50 445.20H585.90M582.50 461.20H585.90M585.10 455.20V469.20M583.40 455.20H586.80M583.40 469.20H586.80M587.50 455.00V471.00M585.80 455.00H589.20M585.80 471.00H589.20M591.60 447.50V478.50M589.90 447.50H593.30M589.90 478.50H593.30M598.50 470.60V476.60M596.80 470.60H600.20M596.80 476.60H600.20M606.00 446.40V473.00M604.30 446.40H607.70M604.30 473.00H607.70M612.80 418.60V449.60M611.10 418.60H614.50M611.10 449.60H614.50M619.30 369.20V417.20M617.60 369.20H621.00M617.60 417.20H621.00M622.30 360.70V399.70M620.60 360.70H624.00M620.60 399.70H624.00M625.00 356.50V387.50M623.30 356.50H626.70M623.30 387.50H626.70M626.70 363.90V375.90M625.00 363.90H628.40M625.00 375.90H628.40M628.30 362.30V370.30M626.60 362.30H630.00M626.60 370.30H630.00M632.70 366.90V386.90M631.00 366.90H634.40M631.00 386.90H634.40M639.70 367.10V378.50M638.00 367.10H641.40M638.00 378.50H641.40M647.10 372.20V396.20M645.40 372.20H648.80M645.40 396.20H648.80M653.90 415.00V425.80M652.20 415.00H655.60M652.20 425.80H655.60M660.10 439.40V460.60M658.40 439.40H661.80M658.40 460.60H661.80M664.20 430.10V442.10M662.50 430.10H665.90M662.50 442.10H665.90M667.40 445.20V461.20M665.70 445.20H669.10M665.70 461.20H669.10" stroke="#2a2ac8" stroke-width="0.72" fill="none"/>
<polyline points="501.90,462.20 504.30,463.00 508.40,463.00 515.30,473.60 522.80,459.70 529.60,434.10 536.10,393.20 539.10,380.20 541.80,372.00 543.50,369.90 545.10,366.30 549.50,376.90 556.50,372.80 563.90,384.20 570.70,420.40 576.90,450.00 581.00,436.10 584.20,453.20 585.10,462.20 587.50,463.00 591.60,463.00 598.50,473.60 606.00,459.70 612.80,434.10 619.30,393.20 622.30,380.20 625.00,372.00 626.70,369.90 628.30,366.30 632.70,376.90 639.70,372.80 647.10,384.20 653.90,420.40 660.10,450.00 664.20,436.10 667.40,453.20" stroke="#2a2ac8" stroke-width="0.72" fill="none"/>
<g stroke="#2a2ac8" stroke-width="0.82" fill="none"><circle cx="501.90" cy="462.20" r="3.2"/><circle cx="504.30" cy="463.00" r="3.2"/><circle cx="508.40" cy="463.00" r="3.2"/><circle cx="515.30" cy="473.60" r="3.2"/><circle cx="522.80" cy="459.70" r="3.2"/><circle cx="529.60" cy="434.10" r="3.2"/><circle cx="536.10" cy="393.20" r="3.2"/><circle cx="539.10" cy="380.20" r="3.2"/><circle cx="541.80" cy="372.00" r="3.2"/><circle cx="543.50" cy="369.90" r="3.2"/><circle cx="545.10" cy="366.30" r="3.2"/><circle cx="549.50" cy="376.90" r="3.2"/><circle cx="556.50" cy="372.80" r="3.2"/><circle cx="563.90" cy="384.20" r="3.2"/><circle cx="570.70" cy="420.40" r="3.2"/><circle cx="576.90" cy="450.00" r="3.2"/><circle cx="581.00" cy="436.10" r="3.2"/><circle cx="584.20" cy="453.20" r="3.2"/><circle cx="585.10" cy="462.20" r="3.2"/><circle cx="587.50" cy="463.00" r="3.2"/><circle cx="591.60" cy="463.00" r="3.2"/><circle cx="598.50" cy="473.60" r="3.2"/><circle cx="606.00" cy="459.70" r="3.2"/><circle cx="612.80" cy="434.10" r="3.2"/><circle cx="619.30" cy="393.20" r="3.2"/><circle cx="622.30" cy="380.20" r="3.2"/><circle cx="625.00" cy="372.00" r="3.2"/><circle cx="626.70" cy="369.90" r="3.2"/><circle cx="628.30" cy="366.30" r="3.2"/><circle cx="632.70" cy="376.90" r="3.2"/><circle cx="639.70" cy="372.80" r="3.2"/><circle cx="647.10" cy="384.20" r="3.2"/><circle cx="653.90" cy="420.40" r="3.2"/><circle cx="660.10" cy="450.00" r="3.2"/><circle cx="664.20" cy="436.10" r="3.2"/><circle cx="667.40" cy="453.20" r="3.2"/></g>
<path d="M501.8 317.50V519.50H666.48" stroke="#5c5c5c" stroke-width="0.9" fill="none"/>
<line x1="501.8" y1="317.50" x2="503.40000000000003" y2="317.50" stroke="#5c5c5c" stroke-width="0.8"/>
<text transform="translate(498.80,321.20) scale(1,1.08)" font-size="8.1" stroke="#000" stroke-width="0.2" text-anchor="end" font-family="Liberation Sans, sans-serif" font-weight="bold">2.5</text>
<line x1="501.8" y1="337.70" x2="503.40000000000003" y2="337.70" stroke="#5c5c5c" stroke-width="0.8"/>
<text transform="translate(498.80,341.40) scale(1,1.08)" font-size="8.1" stroke="#000" stroke-width="0.2" text-anchor="end" font-family="Liberation Sans, sans-serif" font-weight="bold">2</text>
<line x1="501.8" y1="357.90" x2="503.40000000000003" y2="357.90" stroke="#5c5c5c" stroke-width="0.8"/>
<text transform="translate(498.80,361.60) scale(1,1.08)" font-size="8.1" stroke="#000" stroke-width="0.2" text-anchor="end" font-family="Liberation Sans, sans-serif" font-weight="bold">1.5</text>
<line x1="501.8" y1="378.10" x2="503.40000000000003" y2="378.10" stroke="#5c5c5c" stroke-width="0.8"/>
<text transform="translate(498.80,381.80) scale(1,1.08)" font-size="8.1" stroke="#000" stroke-width="0.2" text-anchor="end" font-family="Liberation Sans, sans-serif" font-weight="bold">1</text>
<line x1="501.8" y1="398.30" x2="503.40000000000003" y2="398.30" stroke="#5c5c5c" stroke-width="0.8"/>
<text transform="translate(498.80,402.00) scale(1,1.08)" font-size="8.1" stroke="#000" stroke-width="0.2" text-anchor="end" font-family="Liberation Sans, sans-serif" font-weight="bold">0.5</text>
<line x1="501.8" y1="418.50" x2="503.40000000000003" y2="418.50" stroke="#5c5c5c" stroke-width="0.8"/>
<text transform="translate(498.80,422.20) scale(1,1.08)" font-size="8.1" stroke="#000" stroke-width="0.2" text-anchor="end" font-family="Liberation Sans, sans-serif" font-weight="bold">0</text>
<line x1="501.8" y1="438.70" x2="503.40000000000003" y2="438.70" stroke="#5c5c5c" stroke-width="0.8"/>
<text transform="translate(498.80,442.40) scale(1,1.08)" font-size="8.1" stroke="#000" stroke-width="0.2" text-anchor="end" font-family="Liberation Sans, sans-serif" font-weight="bold">-0.5</text>
<line x1="501.8" y1="458.90" x2="503.40000000000003" y2="458.90" stroke="#5c5c5c" stroke-width="0.8"/>
<text transform="translate(498.80,462.60) scale(1,1.08)" font-size="8.1" stroke="#000" stroke-width="0.2" text-anchor="end" font-family="Liberation Sans, sans-serif" font-weight="bold">-1</text>
<line x1="501.8" y1="479.10" x2="503.40000000000003" y2="479.10" stroke="#5c5c5c" stroke-width="0.8"/>
<text transform="translate(498.80,482.80) scale(1,1.08)" font-size="8.1" stroke="#000" stroke-width="0.2" text-anchor="end" font-family="Liberation Sans, sans-serif" font-weight="bold">-1.5</text>
<line x1="501.8" y1="499.30" x2="503.40000000000003" y2="499.30" stroke="#5c5c5c" stroke-width="0.8"/>
<text transform="translate(498.80,503.00) scale(1,1.08)" font-size="8.1" stroke="#000" stroke-width="0.2" text-anchor="end" font-family="Liberation Sans, sans-serif" font-weight="bold">-2</text>
<line x1="501.8" y1="519.50" x2="503.40000000000003" y2="519.50" stroke="#5c5c5c" stroke-width="0.8"/>
<text transform="translate(498.80,523.20) scale(1,1.08)" font-size="8.1" stroke="#000" stroke-width="0.2" text-anchor="end" font-family="Liberation Sans, sans-serif" font-weight="bold">-2.5</text>
<line x1="501.80" y1="519.50" x2="501.80" y2="517.90" stroke="#5c5c5c" stroke-width="0.8"/>
<text transform="translate(501.80,530.7) scale(1,1.08)" font-size="8.1" stroke="#000" stroke-width="0.2" text-anchor="middle" font-family="Liberation Sans, sans-serif" font-weight="bold">0.25</text>
<line x1="541.67" y1="519.50" x2="541.67" y2="517.90" stroke="#5c5c5c" stroke-width="0.8"/>
<text transform="translate(541.67,530.7) scale(1,1.08)" font-size="8.1" stroke="#000" stroke-width="0.2" text-anchor="middle" font-family="Liberation Sans, sans-serif" font-weight="bold">11.75</text>
<line x1="583.27" y1="519.50" x2="583.27" y2="517.90" stroke="#5c5c5c" stroke-width="0.8"/>
<text transform="translate(583.27,530.7) scale(1,1.08)" font-size="8.1" stroke="#000" stroke-width="0.2" text-anchor="middle" font-family="Liberation Sans, sans-serif" font-weight="bold">23.75</text>
<line x1="624.88" y1="519.50" x2="624.88" y2="517.90" stroke="#5c5c5c" stroke-width="0.8"/>
<text transform="translate(624.88,530.7) scale(1,1.08)" font-size="8.1" stroke="#000" stroke-width="0.2" text-anchor="middle" font-family="Liberation Sans, sans-serif" font-weight="bold">35.75</text>
<line x1="666.48" y1="519.50" x2="666.48" y2="517.90" stroke="#5c5c5c" stroke-width="0.8"/>
<text transform="translate(666.48,530.7) scale(1,1.08)" font-size="8.1" stroke="#000" stroke-width="0.2" text-anchor="middle" font-family="Liberation Sans, sans-serif" font-weight="bold">47.75</text>
<text x="95.20" y="310.1" font-size="12.071" font-family="Liberation Sans, sans-serif" font-weight="bold" xml:space="preserve">Correlation = 0.81</text>
<text x="317.90" y="310.1" font-size="12.294" font-family="Liberation Sans, sans-serif" font-weight="bold" xml:space="preserve">Correlation = 0.9</text>
<text x="532.90" y="310.1" font-size="12.238" font-family="Liberation Sans, sans-serif" font-weight="bold" xml:space="preserve">Correlation = 0.98</text>
<text transform="translate(39.7,503.54) rotate(-90)" font-size="12.519" font-family="Liberation Sans, sans-serif" font-weight="bold" xml:space="preserve">Pathway Actvity Level ( PAL)</text>
<text x="341.60" y="544.5" font-size="12.179" font-family="Liberation Sans, sans-serif" font-weight="bold" xml:space="preserve">Time(hr)</text></svg>
</body></html>
